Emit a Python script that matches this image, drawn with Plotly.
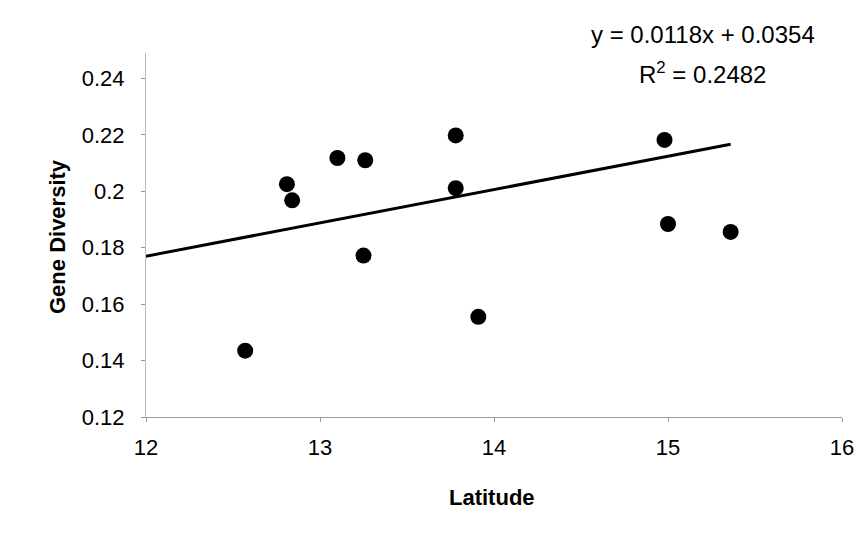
import plotly.graph_objects as go

latitude = [12.57, 12.81, 12.84, 13.10, 13.26, 13.25, 13.78, 13.78, 13.91, 14.98, 15.00, 15.36]
gene_diversity = [0.1435, 0.2025, 0.1968, 0.2118, 0.2110, 0.1772, 0.2198, 0.2011, 0.1555, 0.2182, 0.1884, 0.1856]
slope = 0.0118
intercept = 0.0354
x_ticks = [12, 13, 14, 15, 16]
y_ticks = [0.12, 0.14, 0.16, 0.18, 0.2, 0.22, 0.24]
y_tick_labels = ["0.12", "0.14", "0.16", "0.18", "0.2", "0.22", "0.24"]

line_x = [12, max(latitude)]
line_y = [slope * v + intercept for v in line_x]

fig = go.Figure()
fig.add_trace(go.Scatter(x=line_x, y=line_y, mode="lines",
                         line=dict(color="black", width=3), showlegend=False, hoverinfo="skip"))
fig.add_trace(go.Scatter(x=latitude, y=gene_diversity, mode="markers",
                         marker=dict(color="black", size=16), showlegend=False))

font_fam = "Liberation Sans, Arial"
fig.add_annotation(text="y = 0.0118x + 0.0354",
                   xref="paper", yref="paper", x=0.800, y=1.052, xanchor="center", yanchor="middle",
                   showarrow=False, font=dict(family=font_fam, size=24, color="black"))
fig.add_annotation(text="R<sup>2</sup> = 0.2482",
                   xref="paper", yref="paper", x=0.800, y=0.945, xanchor="center", yanchor="middle",
                   showarrow=False, font=dict(family=font_fam, size=24, color="black"))
fig.add_annotation(text="<b>Latitude</b>",
                   xref="paper", yref="paper", x=0.497, y=-0.222, xanchor="center", yanchor="middle",
                   showarrow=False, font=dict(family=font_fam, size=22, color="black"))
fig.add_annotation(text="<b>Gene Diversity</b>", textangle=-90,
                   xref="paper", yref="paper", x=-0.128, y=0.497, xanchor="center", yanchor="middle",
                   showarrow=False, font=dict(family=font_fam, size=22, color="black"))

fig.update_layout(
    width=866, height=537,
    margin=dict(l=138, r=32, t=45, b=128),
    paper_bgcolor="white", plot_bgcolor="white",
    font=dict(family=font_fam, color="black"),
    xaxis=dict(range=[12, 16], tickvals=x_ticks, ticktext=[str(v) for v in x_ticks],
               showgrid=False, zeroline=False, showline=True, linecolor="#999999", linewidth=1,
               ticks="outside", ticklen=4, tickcolor="#999999", ticklabelstandoff=7,
               tickfont=dict(size=22)),
    yaxis=dict(range=[0.12, 0.249], tickvals=y_ticks, ticktext=y_tick_labels,
               showgrid=False, zeroline=False, showline=True, linecolor="#bbbbbb", linewidth=1,
               ticks="outside", ticklen=4, tickcolor="#999999", ticklabelstandoff=12,
               tickfont=dict(size=22)),
)

fig.write_html("out.html")
